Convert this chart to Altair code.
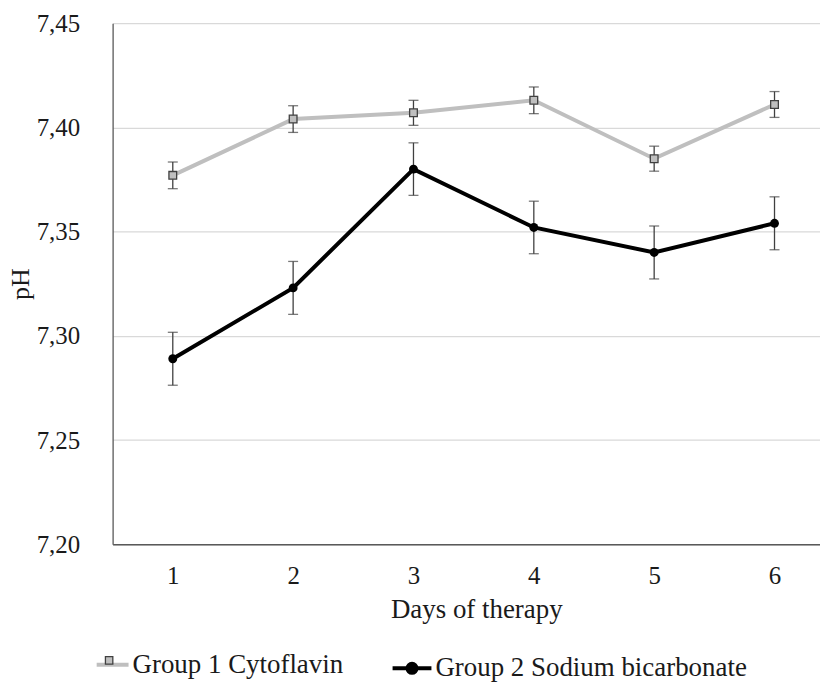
import altair as alt
import pandas as pd

days = [1, 2, 3, 4, 5, 6]
g1_name = "Group 1 Cytoflavin"
g2_name = "Group 2 Sodium bicarbonate"
g1_vals = [7.377, 7.404, 7.407, 7.413, 7.385, 7.411]
g1_err = [0.0064, 0.0064, 0.0060, 0.0064, 0.0060, 0.0062]
g2_vals = [7.289, 7.323, 7.380, 7.352, 7.340, 7.354]
g2_err = [0.0127, 0.0127, 0.0126, 0.0126, 0.0127, 0.0127]
y_ticks = [7.20, 7.25, 7.30, 7.35, 7.40, 7.45]

FONT = "Liberation Serif"
TXT = "#1a1a1a"

df1 = pd.DataFrame({
    "day": days, "ph": g1_vals,
    "lo": [v - e for v, e in zip(g1_vals, g1_err)],
    "hi": [v + e for v, e in zip(g1_vals, g1_err)],
    "series": g1_name, "marker": "g1m",
})
df2 = pd.DataFrame({
    "day": days, "ph": g2_vals,
    "lo": [v - e for v, e in zip(g2_vals, g2_err)],
    "hi": [v + e for v, e in zip(g2_vals, g2_err)],
    "series": g2_name,
})

xscale = alt.Scale(domain=[0.5, 6.378], nice=False, zero=False)
yscale = alt.Scale(domain=[7.20, 7.45], nice=False, zero=False)

x_enc = alt.X("day:Q", scale=xscale, title="Days of therapy",
              axis=alt.Axis(values=days, grid=False, ticks=False, labelPadding=19,
                            titlePadding=9, titleX=365, domainColor="#595959", domainWidth=1.3,
                            labelFontSize=25, titleFontSize=27, titleFontWeight="normal",
                            labelFont=FONT, titleFont=FONT, labelColor=TXT,
                            titleColor=TXT, format="d"))
y_enc = alt.Y("ph:Q", scale=yscale, title="pH",
              axis=alt.Axis(values=y_ticks, grid=True, gridColor="#D9D9D9", gridWidth=1.3,
                            ticks=False, labelPadding=33, titlePadding=3,
                            domainColor="#595959", domainWidth=1.3,
                            labelExpr="replace(format(datum.value, '.2f'), '.', ',')",
                            labelFontSize=25, titleFontSize=26, titleFontWeight="normal",
                            labelFont=FONT, titleFont=FONT, labelColor=TXT,
                            titleColor=TXT))

ERR_COLOR = "#404040"

def errbars(df):
    base = alt.Chart(df)
    rule = base.mark_rule(color=ERR_COLOR, strokeWidth=1.3).encode(
        x=alt.X("day:Q", scale=xscale), y=alt.Y("lo:Q", scale=yscale), y2="hi:Q")
    tlo = base.mark_tick(color=ERR_COLOR, orient="horizontal", size=10, thickness=1.3).encode(
        x=alt.X("day:Q", scale=xscale), y=alt.Y("lo:Q", scale=yscale))
    thi = base.mark_tick(color=ERR_COLOR, orient="horizontal", size=10, thickness=1.3).encode(
        x=alt.X("day:Q", scale=xscale), y=alt.Y("hi:Q", scale=yscale))
    return rule + tlo + thi

common_leg = dict(orient="none", title=None, labelFont=FONT, labelFontSize=27,
                  labelColor=TXT, padding=0, direction="vertical", labelLimit=500)

# Group 1
line1 = alt.Chart(df1).mark_line(strokeWidth=4).encode(
    x=x_enc, y=y_enc,
    color=alt.Color("series:N", scale=alt.Scale(domain=[g1_name], range=["#BFBFBF"]),
                    legend=alt.Legend(symbolType="M-1,0H1", symbolSize=1024,
                                      symbolStrokeWidth=4, labelOffset=2,
                                      legendX=-18, legendY=626, **common_leg)))
pts1 = alt.Chart(df1).mark_point(shape="square", size=60, filled=True, stroke="#404040",
                                 strokeWidth=1.3, opacity=1).encode(
    x=alt.X("day:Q", scale=xscale), y=alt.Y("ph:Q", scale=yscale),
    fill=alt.Fill("marker:N", scale=alt.Scale(domain=["g1m"], range=["#BFBFBF"]),
                  legend=alt.Legend(symbolType="square", symbolSize=55,
                                    symbolStrokeColor="#404040", symbolStrokeWidth=1.3,
                                    labelExpr="''", legendX=-17, legendY=626, **common_leg)))

# Group 2
line2 = alt.Chart(df2).mark_line(strokeWidth=4).encode(
    x=alt.X("day:Q", scale=xscale), y=alt.Y("ph:Q", scale=yscale),
    stroke=alt.Stroke("series:N", scale=alt.Scale(domain=[g2_name], range=["#000000"]),
                      legend=alt.Legend(
                          symbolType="M-1,0H1M0.23,0A0.23,0.23,0,1,1,-0.23,0A0.23,0.23,0,1,1,0.23,0Z",
                          symbolSize=1521, symbolStrokeWidth=4, symbolFillColor="#000000",
                          labelOffset=2, legendX=279, legendY=626, **common_leg)))
pts2 = alt.Chart(df2).mark_circle(size=80, color="#000000", opacity=1).encode(
    x=alt.X("day:Q", scale=xscale), y=alt.Y("ph:Q", scale=yscale))

chart = alt.layer(
    errbars(df2), line2, pts2,
    errbars(df1), line1, pts1,
).properties(
    width=710, height=523,
    padding={"left": 105, "top": 14, "right": 0, "bottom": 140},
    autosize=alt.AutoSizeParams(type="none"),
    background="white",
).configure_view(stroke=None).configure_legend(labelFont=FONT)

chart.save("out.html", embed_options={"renderer": "svg", "actions": False})
